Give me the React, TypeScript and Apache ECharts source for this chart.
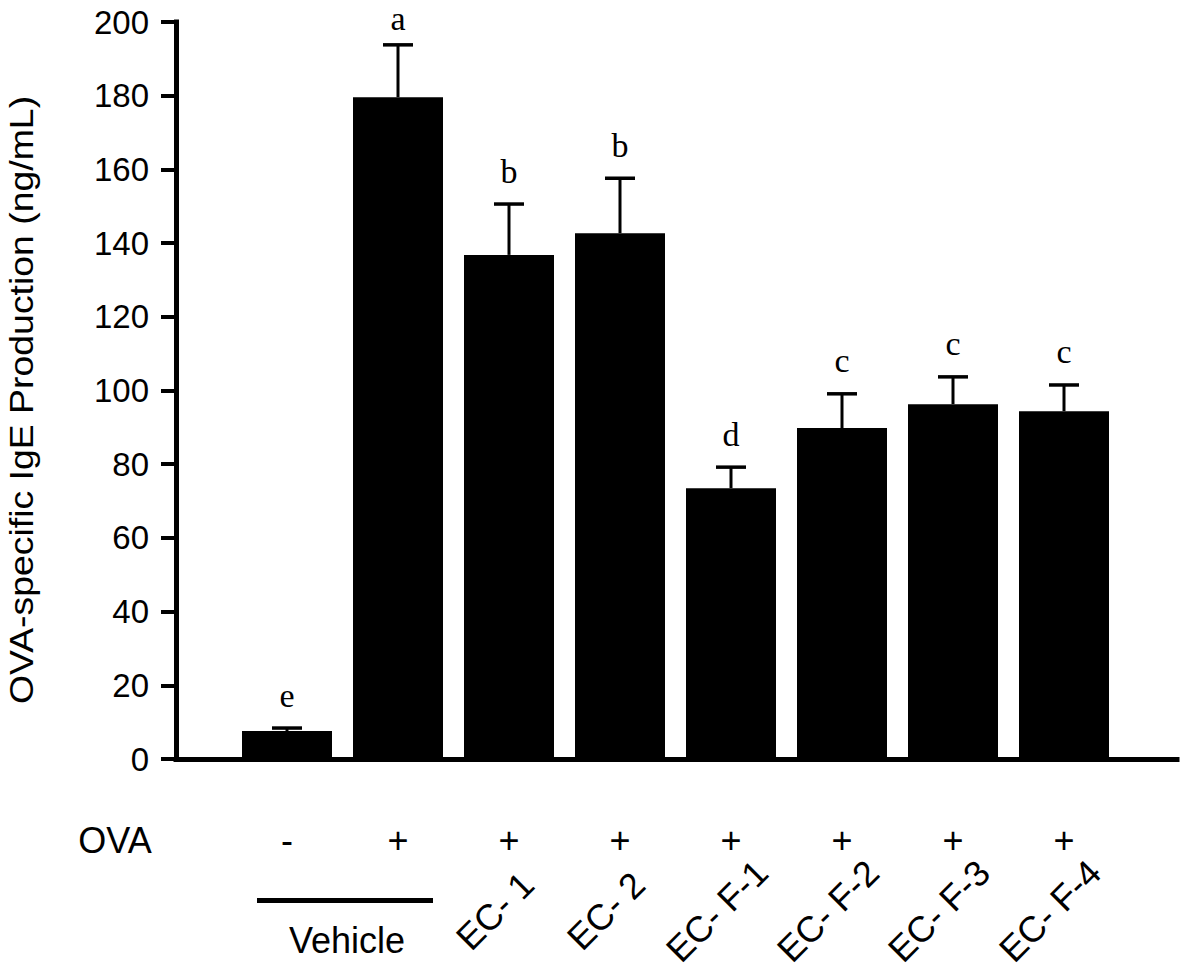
import React, { useEffect, useRef } from "react";
import * as echarts from "echarts";

// ---- data ----
const groupPositions = [1, 2, 3, 4, 5, 6, 7, 8];
const ovaSigns = ["-", "+", "+", "+", "+", "+", "+", "+"];
const treatmentLabels = ["", "", "EC- 1", "EC- 2", "EC- F-1", "EC- F-2", "EC- F-3", "EC- F-4"];
const vehicleLabel = "Vehicle";
const igeMeans = [7.6, 179.6, 136.8, 142.7, 73.5, 89.8, 96.3, 94.4];
const igeSem = [0.8, 14.2, 13.8, 14.9, 5.7, 9.3, 7.4, 7.1];
const sigLetters = ["e", "a", "b", "b", "d", "c", "c", "c"];
const yTicks = { min: 0, max: 200, interval: 20 };
const yTitle = "OVA-specific IgE Production (ng/mL)";

const SANS = "'Liberation Sans', Arial, sans-serif";
const SERIF = "'Liberation Serif', 'Times New Roman', serif";

export default function App() {
  const ref = useRef<HTMLDivElement>(null);

  useEffect(() => {
    if (!ref.current) return;
    const chart = echarts.init(ref.current, null, { renderer: "svg" });

    const gridLeft = 176;
    const gridRight = 3;
    const plotWidth = 1180 - gridLeft - gridRight;
    const slot = 111; // px per group on the x scale
    const letterSize = 34;

    chart.setOption({
      animation: false,
      backgroundColor: "#ffffff",
      grid: { left: gridLeft, right: gridRight, top: 22, bottom: 213, containLabel: false },
      xAxis: {
        type: "value",
        min: 0,
        max: plotWidth / slot,
        axisLine: { show: true, onZero: false, lineStyle: { color: "#000", width: 5, cap: "square" } },
        axisTick: { show: false },
        axisLabel: { show: false },
        splitLine: { show: false },
      },
      yAxis: {
        type: "value",
        min: yTicks.min,
        max: yTicks.max,
        interval: yTicks.interval,
        axisLine: { show: true, lineStyle: { color: "#000", width: 5, cap: "square" } },
        axisTick: { show: true, inside: false, length: 15, lineStyle: { color: "#000", width: 4 } },
        axisLabel: { color: "#000", fontSize: 33, fontFamily: SANS, margin: 27 },
        splitLine: { show: false },
      },
      series: [
        {
          type: "bar",
          data: groupPositions.map((x, i) => [x, igeMeans[i]]),
          barWidth: 90,
          itemStyle: { color: "#000" },
          z: 2,
        },
        {
          type: "custom",
          z: 3,
          data: groupPositions.map((x, i) => [x, igeMeans[i], igeSem[i]]),
          encode: { x: 0, y: 1 },
          renderItem: (params: any, api: any) => {
            const x = api.value(0);
            const m = api.value(1);
            const e = api.value(2);
            const base = api.coord([x, m]);
            const top = api.coord([x, m + e]);
            return {
              type: "group",
              children: [
                {
                  type: "line",
                  shape: { x1: base[0], y1: base[1], x2: top[0], y2: top[1] },
                  style: { stroke: "#000", lineWidth: 3 },
                },
                {
                  type: "line",
                  shape: { x1: top[0] - 15, y1: top[1], x2: top[0] + 15, y2: top[1] },
                  style: { stroke: "#000", lineWidth: 3.5 },
                },
                {
                  type: "text",
                  x: top[0],
                  y: Math.max(top[1] - 33, letterSize / 2 + 1),
                  style: {
                    text: sigLetters[params.dataIndex],
                    fontSize: letterSize,
                    lineHeight: 24,
                    fontFamily: SERIF,
                    fill: "#000",
                    align: "center",
                    verticalAlign: "middle",
                  },
                },
              ],
            };
          },
        },
      ],
    });

    const xs = groupPositions.map((v) => chart.convertToPixel({ xAxisIndex: 0 }, v) as number);

    const graphic: any[] = [];
    graphic.push({
      type: "text",
      x: 22,
      y: 400,
      rotation: Math.PI / 2,
      scaleX: 1.1,
      style: { text: yTitle, fontSize: 34, fontFamily: SANS, fill: "#000", align: "center", verticalAlign: "middle" },
    });
    graphic.push({
      type: "text",
      x: 115,
      y: 840,
      style: { text: "OVA", fontSize: 36, fontFamily: SANS, fill: "#000", align: "center", verticalAlign: "middle" },
    });
    xs.forEach((px, i) => {
      graphic.push({
        type: "text",
        x: px,
        y: 840,
        style: { text: ovaSigns[i], fontSize: 36, fontFamily: SANS, fill: "#000", align: "center", verticalAlign: "middle" },
      });
      if (treatmentLabels[i]) {
        graphic.push({
          type: "text",
          x: px - 14,
          y: 911,
          rotation: Math.PI / 4,
          style: {
            text: treatmentLabels[i],
            fontSize: 36,
            fontFamily: SANS,
            fill: "#000",
            align: "center",
            verticalAlign: "middle",
          },
        });
      }
    });
    const vLeft = xs[0] - 30;
    const vRight = xs[1] + 35;
    graphic.push({
      type: "line",
      shape: { x1: vLeft, y1: 900.5, x2: vRight, y2: 900.5 },
      style: { stroke: "#000", lineWidth: 5 },
    });
    graphic.push({
      type: "text",
      x: (vLeft + vRight) / 2 + 2,
      y: 940,
      style: { text: vehicleLabel, fontSize: 36, fontFamily: SANS, fill: "#000", align: "center", verticalAlign: "middle" },
    });

    chart.setOption({ graphic });

    return () => chart.dispose();
  }, []);

  return (
    <div
      ref={ref}
      style={{ position: "fixed", left: 0, top: 0, width: 1180, height: 972, background: "#fff" }}
    />
  );
}
